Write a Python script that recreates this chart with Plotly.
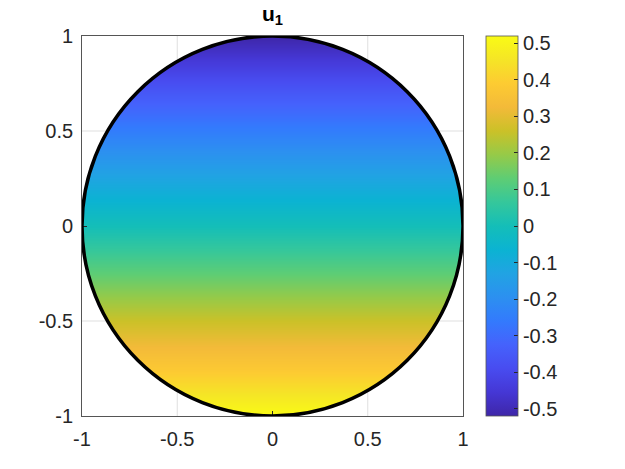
import numpy as np
import plotly.graph_objects as go

y_levels = [-1.0, -0.75, -0.5, -0.25, 0.0, 0.25, 0.5, 0.75, 1.0]
u_levels = [0.52, 0.38, 0.26, 0.13, 0.0, -0.12, -0.25, -0.38, -0.52]
x_edges = [-1.0, 1.0]

tick_vals = [-1, -0.5, 0, 0.5, 1]
tick_text = ["-1", "-0.5", "0", "0.5", "1"]
cb_vals = [-0.5, -0.4, -0.3, -0.2, -0.1, 0, 0.1, 0.2, 0.3, 0.4, 0.5]
cb_text = ["-0.5", "-0.4", "-0.3", "-0.2", "-0.1", "0", "0.1", "0.2", "0.3", "0.4", "0.5"]

# parula (sampled)
parula = ["#3e26a8", "#4537d5", "#484cf0", "#4562fc", "#337afd", "#2c90f0",
          "#21a3e3", "#0bb3d2", "#14beb8", "#35c79b", "#5ecd74", "#96ca48",
          "#cbc128", "#f3ba39", "#fdcb32", "#f5e526", "#f9fb15"]
cscale = [[i / (len(parula) - 1), c] for i, c in enumerate(parula)]

font = "Liberation Sans, Arial, Helvetica, sans-serif"
axcol = "#262626"

# page body has an 8px margin, so the figure is 8px smaller and margins shifted
W, H = 617, 461
L, T, PW, PH = 74, 28, 381, 380

z = [[u] * len(x_edges) for u in u_levels]

fig = go.Figure(go.Heatmap(
    x=x_edges, y=y_levels, z=z, zsmooth="best",
    colorscale=cscale, zmin=-0.52, zmax=0.52,
    colorbar=dict(x=23 / PW + 1, xanchor="left", xpad=0, ypad=0,
                  y=0.5, len=1, lenmode="fraction",
                  thickness=32, outlinewidth=0.8, outlinecolor="#555",
                  tickmode="array", tickvals=cb_vals, ticktext=cb_text,
                  ticks="inside", ticklen=4, tickcolor=axcol,
                  tickfont=dict(family=font, size=20, color=axcol)),
    hoverinfo="skip",
))

# white mask outside the unit circle
th = np.linspace(0, 2 * np.pi, 241)
circ = " ".join("%s %.5f,%.5f" % ("M" if i == 0 else "L", np.cos(t), np.sin(t)) for i, t in enumerate(th))
mask = "M -2,-2 L 2,-2 L 2,2 L -2,2 Z " + circ + " Z"
shapes = [dict(type="path", path=mask, xref="x", yref="y", fillcolor="white",
               fillrule="evenodd", line=dict(width=0), layer="above")]

# grid lines, only the parts that show outside the disk
gridcol = "#dfdfdf"
for g in [-0.5, 0.5]:
    h = np.sqrt(1 - g * g)
    for a, b in [(h, 1), (-1, -h)]:
        shapes.append(dict(type="line", x0=g, x1=g, y0=a, y1=b, xref="x", yref="y",
                           line=dict(color=gridcol, width=1), layer="above"))
        shapes.append(dict(type="line", y0=g, y1=g, x0=a, x1=b, xref="x", yref="y",
                           line=dict(color=gridcol, width=1), layer="above"))

shapes.append(dict(type="circle", x0=-1, x1=1, y0=-1, y1=1, xref="x", yref="y",
                   line=dict(color="black", width=3.5), layer="above"))

axis = dict(range=[-1, 1], tickmode="array", tickvals=tick_vals, ticktext=tick_text,
            ticks="inside", ticklen=5, tickcolor=axcol, showgrid=False, zeroline=False,
            showline=True, linecolor="#555", linewidth=0.7, mirror=True,
            tickfont=dict(family=font, size=20, color=axcol))

fig.update_layout(
    width=W, height=H,
    margin=dict(l=L, r=W - L - PW, t=T, b=H - T - PH),
    paper_bgcolor="white", plot_bgcolor="white",
    xaxis=dict(axis, ticklabelstandoff=5),
    yaxis=dict(axis, ticklabelstandoff=4),
    shapes=shapes,
    title=dict(text="<b>u<sub>1</sub></b>", x=0.5, xref="paper", xanchor="center",
               y=1, yref="paper", yanchor="bottom", pad=dict(b=15),
               font=dict(family=font, size=21, color="black")),
)

fig.write_html("out.html")
